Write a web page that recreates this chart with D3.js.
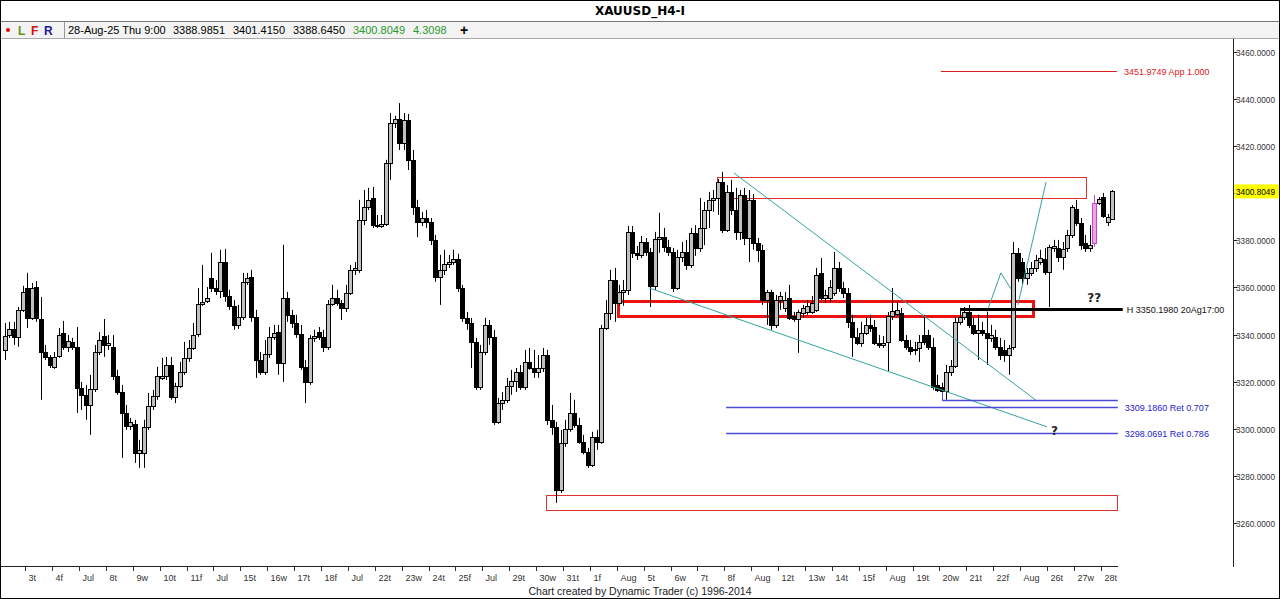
<!DOCTYPE html>
<html><head><meta charset="utf-8">
<script src="https://cdn.jsdelivr.net/npm/d3@7"></script>
<style>body{margin:0;background:#fff}svg{display:block}</style>
</head><body>
<svg id="c" width="1280" height="599"></svg>
<script>
// ---- DATA (XAUUSD H4, 2 Jul 2025 .. 28 Aug 2025 9:00) ----
const opens=[3333.5,3339.8,3342.4,3339.0,3350.5,3359.8,3347.1,3360.2,3346.6,3332.6,
3330.5,3326.3,3330.9,3340.7,3334.8,3336.9,3334.8,3317.3,3314.4,3310.1,
3316.9,3332.6,3339.4,3335.6,3334.8,3322.4,3315.6,3306.7,3301.2,3302.1,
3289.7,3289.7,3300.8,3309.7,3313.9,3321.6,3322.4,3327.1,3313.5,3318.2,
3324.1,3330.1,3334.3,3340.3,3353.0,3354.3,3364.1,3359.8,3358.5,3370.8,
3356.4,3352.2,3344.1,3347.5,3362.4,3364.5,3347.5,3329.2,3324.1,3331.8,
3339.0,3341.1,3327.9,3355.5,3348.4,3344.9,3340.3,3326.3,3319.9,3338.6,
3341.1,3339.0,3334.8,3353.0,3355.5,3353.4,3351.3,3357.7,3367.5,3367.5,
3388.7,3394.2,3398.0,3386.5,3386.1,3387.0,3412.9,3429.9,3431.5,3421.4,
3431.1,3414.2,3394.2,3387.8,3389.5,3387.8,3380.2,3364.5,3367.5,3370.0,
3370.8,3372.1,3359.8,3347.1,3344.9,3336.9,3317.8,3332.6,3344.1,3339.0,
3302.9,3311.0,3312.3,3318.2,3320.3,3324.1,3317.8,3328.4,3325.8,3324.1,
3325.8,3331.3,3303.8,3300.8,3274.1,3294.0,3299.9,3306.7,3301.6,3294.4,
3290.2,3284.6,3296.5,3294.4,3342.8,3349.2,3363.2,3353.4,3358.1,3359.0,
3383.6,3374.7,3373.8,3379.3,3375.1,3360.7,3380.6,3381.4,3377.2,3375.1,
3359.8,3372.9,3375.1,3369.6,3383.1,3376.8,3385.3,3392.9,3397.2,3398.0,
3404.8,3384.4,3400.6,3392.9,3383.6,3399.3,3381.0,3397.2,3378.9,3376.0,
3354.7,3358.1,3344.1,3354.7,3351.3,3355.5,3347.9,3346.6,3349.2,3349.6,
3349.6,3350.5,3366.2,3355.5,3355.5,3357.7,3368.3,3359.8,3357.7,3345.4,
3339.0,3336.4,3340.7,3344.1,3343.2,3336.4,3335.6,3336.9,3347.9,3348.8,
3349.2,3337.7,3334.8,3333.9,3334.3,3339.8,3339.8,3334.8,3318.6,3317.8,
3316.1,3324.1,3326.7,3345.4,3347.5,3349.6,3344.1,3340.7,3342.0,3340.7,
3338.6,3339.0,3334.8,3333.5,3331.3,3334.8,3374.7,3370.8,3364.1,3366.2,
3368.3,3370.8,3372.1,3366.6,3376.8,3376.8,3373.0,3376.8,3382.3,3393.3,
3387.4,3378.9,3376.8,3378.9,3395.9,3398.4,3387.8,3388.9851];
const highs=[3344.9,3345.4,3345.4,3351.7,3360.7,3366.2,3361.9,3362.7,3356.0,3335.6,
3331.3,3332.6,3342.8,3345.8,3339.8,3338.6,3343.2,3319.9,3318.6,3322.9,
3335.6,3341.1,3346.6,3339.8,3339.8,3325.0,3318.6,3310.1,3304.6,3303.8,
3295.3,3303.8,3315.2,3316.5,3326.3,3330.1,3330.5,3330.5,3319.5,3328.4,
3336.9,3337.7,3344.9,3359.8,3369.6,3360.2,3374.7,3363.2,3376.0,3376.4,
3359.0,3354.7,3352.6,3366.2,3366.2,3367.5,3350.5,3332.6,3337.7,3343.2,
3344.1,3344.1,3378.1,3358.1,3350.5,3348.4,3344.1,3329.2,3339.8,3342.0,
3343.2,3342.0,3354.7,3361.1,3359.0,3354.7,3361.1,3369.6,3370.8,3397.2,
3401.4,3402.3,3402.7,3390.8,3390.8,3414.2,3434.1,3432.9,3438.3,3434.1,
3433.7,3418.4,3397.2,3392.1,3392.9,3389.5,3382.3,3373.8,3376.0,3373.8,
3376.0,3374.3,3361.1,3349.6,3347.1,3338.6,3335.6,3347.1,3346.2,3342.0,
3313.1,3315.6,3321.6,3325.0,3325.8,3327.1,3333.5,3334.3,3333.5,3331.3,
3334.3,3333.5,3310.1,3302.9,3299.5,3303.8,3315.2,3312.3,3304.6,3297.4,
3291.9,3298.7,3299.5,3344.1,3354.7,3367.5,3368.3,3361.1,3363.2,3386.1,
3386.1,3377.6,3381.9,3381.0,3376.8,3383.6,3391.7,3385.3,3380.2,3376.8,
3376.0,3379.3,3380.2,3385.3,3386.5,3398.0,3396.3,3400.6,3401.4,3406.0,
3409.1,3403.5,3405.7,3402.3,3401.4,3402.3,3401.4,3399.7,3381.0,3378.1,
3359.0,3359.0,3356.8,3358.1,3358.1,3361.1,3349.6,3350.5,3352.6,3354.7,
3356.4,3368.3,3372.5,3359.0,3363.2,3375.1,3370.8,3362.4,3359.8,3348.4,
3342.8,3345.4,3347.1,3348.4,3346.2,3339.8,3339.4,3349.6,3359.8,3353.9,
3351.3,3339.8,3337.7,3336.9,3339.8,3348.4,3342.0,3338.6,3322.9,3319.5,
3327.1,3329.2,3347.1,3351.3,3351.7,3352.6,3347.1,3348.4,3345.4,3349.6,
3344.1,3342.0,3338.6,3337.7,3335.6,3379.3,3376.8,3372.5,3368.3,3370.8,
3373.8,3376.0,3376.8,3378.1,3380.2,3380.2,3379.3,3384.4,3395.0,3397.2,
3389.5,3382.3,3386.5,3399.3,3398.4,3400.1,3391.2,3401.415];
const lows=[3329.2,3338.6,3335.6,3334.8,3349.6,3342.8,3346.2,3345.4,3312.3,3329.2,
3325.8,3325.4,3330.1,3333.5,3332.6,3333.5,3306.7,3308.0,3303.8,3297.4,
3315.6,3331.3,3330.5,3333.5,3320.7,3314.4,3287.6,3299.5,3299.5,3285.5,
3283.4,3283.4,3299.5,3308.0,3312.3,3320.7,3320.7,3312.3,3310.9,3317.3,
3322.9,3328.4,3333.5,3339.0,3352.2,3353.4,3358.1,3356.8,3355.5,3353.9,
3350.5,3342.0,3342.4,3346.2,3361.1,3345.4,3321.6,3322.9,3322.9,3330.1,
3337.7,3322.9,3319.9,3345.4,3342.8,3338.6,3325.0,3310.9,3318.6,3336.9,
3337.7,3332.6,3333.5,3352.2,3352.2,3346.2,3349.6,3356.8,3365.3,3366.2,
3386.5,3392.9,3385.3,3385.3,3385.3,3386.1,3405.7,3427.7,3418.4,3418.4,
3409.9,3390.8,3381.4,3386.1,3385.3,3378.0,3362.4,3352.6,3365.3,3368.3,
3369.6,3358.1,3345.4,3342.0,3325.8,3316.5,3316.5,3331.3,3335.6,3301.6,
3302.1,3308.0,3310.9,3314.4,3315.6,3316.5,3316.5,3325.0,3321.6,3321.6,
3324.1,3301.6,3297.4,3268.5,3272.7,3292.3,3298.7,3300.4,3293.6,3289.1,
3283.4,3283.8,3291.0,3293.6,3342.0,3346.2,3345.4,3352.2,3352.2,3356.8,
3372.5,3371.7,3372.5,3373.4,3351.7,3359.0,3374.7,3375.1,3373.4,3358.1,
3359.0,3370.8,3367.5,3368.3,3373.4,3375.1,3378.0,3385.3,3392.1,3390.8,
3383.1,3383.6,3390.8,3380.2,3380.2,3378.0,3370.8,3376.0,3370.8,3352.6,
3344.1,3342.0,3342.8,3350.5,3349.6,3346.2,3345.4,3332.2,3347.1,3348.4,
3348.8,3349.6,3354.7,3353.4,3353.9,3356.4,3358.1,3355.5,3342.8,3330.5,
3335.6,3334.8,3339.8,3341.1,3335.6,3334.3,3334.3,3324.1,3346.2,3347.9,
3336.9,3333.5,3331.3,3331.3,3328.4,3335.6,3333.5,3316.5,3315.6,3312.3,
3312.3,3322.4,3325.8,3344.1,3346.2,3342.8,3339.8,3329.2,3339.4,3327.1,
3336.9,3333.5,3329.2,3328.4,3322.9,3333.5,3362.4,3361.1,3361.1,3364.9,
3366.6,3369.6,3365.3,3351.7,3375.1,3370.8,3367.5,3375.1,3381.0,3386.1,
3376.0,3375.1,3375.1,3377.2,3395.0,3389.5,3386.1,3388.645];
const closes=[3339.4,3342.4,3339.0,3350.5,3358.1,3347.1,3359.8,3347.1,3332.6,3330.5,
3327.1,3330.5,3339.8,3334.8,3337.3,3334.8,3317.3,3314.4,3310.1,3316.9,
3332.6,3337.7,3335.6,3336.4,3322.4,3315.6,3306.7,3301.2,3302.9,3289.7,
3291.0,3300.8,3309.7,3313.9,3322.4,3322.4,3327.1,3313.5,3318.2,3324.1,
3330.1,3334.3,3339.8,3353.0,3353.9,3355.5,3359.8,3358.5,3370.8,3356.4,
3352.2,3344.1,3347.5,3362.4,3364.1,3347.5,3329.2,3324.1,3331.8,3339.0,
3340.7,3327.9,3355.5,3348.4,3344.9,3340.3,3326.3,3319.9,3338.6,3339.4,
3339.0,3334.8,3353.0,3355.5,3353.4,3351.3,3357.7,3367.5,3368.3,3388.7,
3394.2,3397.2,3386.5,3386.1,3387.0,3412.9,3429.9,3431.5,3421.4,3431.1,
3414.2,3394.2,3387.8,3389.5,3387.8,3380.2,3364.5,3367.5,3370.0,3370.8,
3372.1,3359.8,3347.1,3344.9,3336.9,3317.8,3332.6,3344.1,3339.0,3302.9,
3311.0,3312.3,3318.2,3320.3,3324.1,3317.8,3328.4,3325.8,3324.1,3325.8,
3331.3,3303.8,3300.8,3274.1,3294.0,3299.9,3306.7,3301.6,3294.4,3290.2,
3284.6,3296.5,3294.4,3342.8,3349.2,3363.2,3353.4,3358.1,3359.0,3383.6,
3374.7,3373.8,3379.3,3375.1,3360.7,3380.6,3381.4,3377.2,3375.1,3359.8,
3372.9,3375.1,3369.6,3383.1,3376.8,3385.3,3392.9,3397.2,3398.0,3404.8,
3384.4,3400.6,3392.9,3383.6,3399.3,3381.0,3397.2,3378.9,3376.0,3354.7,
3358.1,3344.1,3354.7,3356.4,3354.7,3347.1,3346.6,3349.6,3351.3,3352.2,
3353.4,3365.3,3355.5,3356.8,3360.2,3368.3,3359.8,3357.7,3345.4,3339.0,
3336.4,3340.7,3344.1,3342.8,3336.4,3335.6,3336.4,3347.9,3350.0,3350.5,
3337.7,3334.8,3333.1,3333.5,3336.9,3336.9,3334.8,3317.8,3316.5,3316.1,
3324.1,3326.7,3345.4,3347.5,3349.6,3344.1,3340.7,3342.0,3340.7,3338.6,
3339.8,3334.8,3331.3,3331.3,3334.3,3374.7,3364.1,3364.1,3366.2,3368.3,
3371.7,3372.5,3366.6,3377.2,3377.6,3373.0,3376.4,3382.3,3394.2,3387.4,
3378.1,3376.8,3378.1,3395.9,3397.6,3390.4,3390.0,3400.8049];
const markedBar=243;
const dayLabels=["3t","4f","Jul","8t","9w","10t","11f","Jul","15t","16w","17t","18f","Jul","22t","23w","24t","25f","Jul","29t","30w","31t","1f","Aug","5t","6w","7t","8f","Aug","12t","13w","14t","15f","Aug","19t","20w","21t","22f","Aug","26t","27w","28t"];
const priceTicks=[3260,3280,3300,3320,3340,3360,3380,3400,3420,3440,3460];
const lastPrice=3400.8049;
const header=["28-Aug-25 Thu 9:00","3388.9851","3401.4150","3388.6450","3400.8049","4.3098"];
// annotations in (bar index, price)
const levels=[
 {a:208.8,b:248.1,p:3451.9749,text:"3451.9749 App 1.000",kind:"app"},
 {a:213.1,b:249.4,p:3350.9,text:"H 3350.1980 20Ag17:00",kind:"hi"},
 {a:160.9,b:248.3,p:3309.186,text:"3309.1860 Ret 0.707",kind:"ret"},
 {a:160.9,b:248.3,p:3298.0691,text:"3298.0691 Ret 0.786",kind:"ret"},
 {a:209.1,b:248.3,p:3312.3,text:"",kind:"ret"}
];
const boxes=[
 {a:158.9,b:241.2,p0:3406.8,p1:3397.9,kind:"thin"},
 {a:136.8,b:229.3,p0:3354.2,p1:3347.9,kind:"thick"},
 {a:120.7,b:248.1,p0:3271.9,p1:3265.6,kind:"thin"}
];
const trendLines=[
 [[162.65,3408.6],[230.25,3311.8]],
 [[143.7,3359.8],[232.5,3300.8]],
 [[219.1,3349.6],[222.2,3366.2],[224.45,3359.4]],
 [[226.0,3352.6],[232.3,3404.8]]
];
const marks=[{i:233.4,p:3299.2,t:"?"},{i:241.5,p:3355.5,t:"??"}];

// ---- DRAW ----
const svg=d3.select("#c");
const F="'Liberation Sans',Arial,sans-serif";
const x=d3.scaleLinear().domain([0,247]).range([5,1112]);
const y=d3.scaleLinear().domain([3241.7,3465.1]).range([566,40]);
const AX=1233.5;

svg.append("rect").attr("x",0).attr("y",0).attr("width",1280).attr("height",599).attr("fill","#fff");
svg.append("defs").append("clipPath").attr("id","pc").append("rect").attr("x",0).attr("y",39).attr("width",1233).attr("height",527);

// title & toolbar
svg.append("text").attr("x",640).attr("y",15).attr("text-anchor","middle").attr("font-family","'DejaVu Sans',sans-serif").attr("font-weight","bold").attr("font-size",12).attr("fill","#000").text("XAUUSD_H4-I");
svg.append("rect").attr("x",0).attr("y",21).attr("width",1280).attr("height",17).attr("fill","#f3f3f3");
svg.append("line").attr("x1",0).attr("x2",1280).attr("y1",21.5).attr("y2",21.5).attr("stroke","#777");
svg.append("line").attr("x1",0).attr("x2",1280).attr("y1",38.5).attr("y2",38.5).attr("stroke","#aaa");
svg.append("line").attr("x1",64.5).attr("x2",64.5).attr("y1",22).attr("y2",38).attr("stroke","#999");
svg.append("circle").attr("cx",8).attr("cy",30).attr("r",2).attr("fill","#d00");
[["L",18,"#6b8e23"],["F",31,"#d01010"],["R",44,"#1a1a9a"]].forEach(d=>{
 svg.append("text").attr("x",d[1]).attr("y",35).attr("font-family",F).attr("font-size",12).attr("font-weight","bold").attr("fill",d[2]).text(d[0]);
});
const hx=[68,173,233,293,353,413];
header.forEach((t,k)=>{
 svg.append("text").attr("x",hx[k]).attr("y",34).attr("font-family",F).attr("font-size",11).attr("fill",k>=4?"#2a9a2a":"#000").text(t);
});
svg.append("text").attr("x",460).attr("y",35).attr("font-family",F).attr("font-size",14).attr("font-weight","bold").attr("fill","#000").text("+");

// axes lines
svg.append("line").attr("x1",AX).attr("x2",AX).attr("y1",39).attr("y2",567).attr("stroke","#222");
svg.append("line").attr("x1",0).attr("x2",1118).attr("y1",566.5).attr("y2",566.5).attr("stroke","#222");

// price axis
priceTicks.forEach(v=>{
 const yy=Math.round(y(v))+0.5;
 svg.append("line").attr("x1",AX).attr("x2",AX+4).attr("y1",yy).attr("y2",yy).attr("stroke","#222");
 svg.append("text").attr("x",1236).attr("y",yy+3.5).attr("font-family",F).attr("font-size",9).attr("textLength",39).attr("lengthAdjust","spacingAndGlyphs").attr("fill","#333").text(v.toFixed(4));
});
const ly=y(lastPrice);
svg.append("rect").attr("x",AX+1).attr("y",ly-7).attr("width",45).attr("height",14).attr("fill","#ffff00");
svg.append("text").attr("x",1236).attr("y",ly+3.5).attr("font-family",F).attr("font-size",9).attr("textLength",39).attr("lengthAdjust","spacingAndGlyphs").attr("fill","#000").text(lastPrice.toFixed(4));

// time axis
dayLabels.forEach((t,k)=>{
 const xx=Math.round(x(4.5+6*k))+0.5;
 svg.append("line").attr("x1",xx).attr("x2",xx).attr("y1",566).attr("y2",571).attr("stroke","#333");
 svg.append("text").attr("x",xx+3).attr("y",581).attr("font-family",F).attr("font-size",9).attr("fill","#333").text(t);
});
svg.append("text").attr("x",640).attr("y",595).attr("text-anchor","middle").attr("font-family",F).attr("font-size",10.5).attr("fill","#222").text("Chart created by Dynamic Trader  (c) 1996-2014");

const g=svg.append("g").attr("clip-path","url(#pc)");

// boxes
boxes.forEach(b=>{
 g.append("rect").attr("x",Math.round(x(b.a))+0.5).attr("y",Math.round(y(b.p0))+0.5)
  .attr("width",Math.round(x(b.b)-x(b.a))).attr("height",Math.round(y(b.p1)-y(b.p0)))
  .attr("fill","none").attr("stroke",b.kind==="thick"?"#ee1111":"#e03030").attr("stroke-width",b.kind==="thick"?3:1);
});

// candles
const idx=d3.range(closes.length);
idx.forEach(i=>{
 const xi=Math.round(x(i))+0.5;
 const up=closes[i]>=opens[i];
 const mk=i===markedBar;
 const col=mk?"#cc44cc":"#000";
 g.append("line").attr("x1",xi).attr("x2",xi).attr("y1",y(highs[i])).attr("y2",y(lows[i])).attr("stroke",col).attr("stroke-width",1);
 const t=y(Math.max(opens[i],closes[i])), bt=y(Math.min(opens[i],closes[i]));
 g.append("rect").attr("x",xi-2).attr("y",Math.round(t)+0.5).attr("width",4).attr("height",Math.max(1,Math.round(bt-t)))
  .attr("fill",mk?"#e9a6e9":(up?"#c0c0c0":"#000")).attr("stroke",col).attr("stroke-width",1);
});

// trend lines
const lineGen=d3.line().x(d=>x(d[0])).y(d=>y(d[1]));
trendLines.forEach(pts=>{
 g.append("path").attr("d",lineGen(pts)).attr("fill","none").attr("stroke","#35a39d").attr("stroke-width",1);
});

// horizontal levels
levels.forEach(l=>{
 const yy=Math.round(y(l.p))+0.5;
 const col=l.kind==="app"?"#e02020":(l.kind==="hi"?"#000":"#4b4bd8");
 g.append("line").attr("x1",x(l.a)).attr("x2",x(l.b)).attr("y1",yy).attr("y2",yy).attr("stroke",col).attr("stroke-width",l.kind==="hi"?3:(l.kind==="ret"?1.5:1));
 if(l.text){
  svg.append("text").attr("x",x(l.b)+(l.kind==="hi"?4:7)).attr("y",yy+3.5).attr("font-family",F).attr("font-size",9)
   .attr("fill",l.kind==="app"?"#e02020":(l.kind==="hi"?"#111":"#2424cc")).text(l.text);
 }
});
// low connector
g.append("line").attr("x1",Math.round(x(209.1))+0.5).attr("x2",Math.round(x(209.1))+0.5).attr("y1",y(3315.6)).attr("y2",y(3312.3)).attr("stroke","#4b4bd8");

marks.forEach(m=>{
 g.append("text").attr("x",x(m.i)).attr("y",y(m.p)+4).attr("font-family","'DejaVu Sans',sans-serif").attr("font-weight","bold").attr("font-size",12).attr("fill","#222").text(m.t);
});

// outer frame
svg.append("rect").attr("x",0.5).attr("y",0.5).attr("width",1279).attr("height",598).attr("fill","none").attr("stroke","#000");
</script>
</body></html>
